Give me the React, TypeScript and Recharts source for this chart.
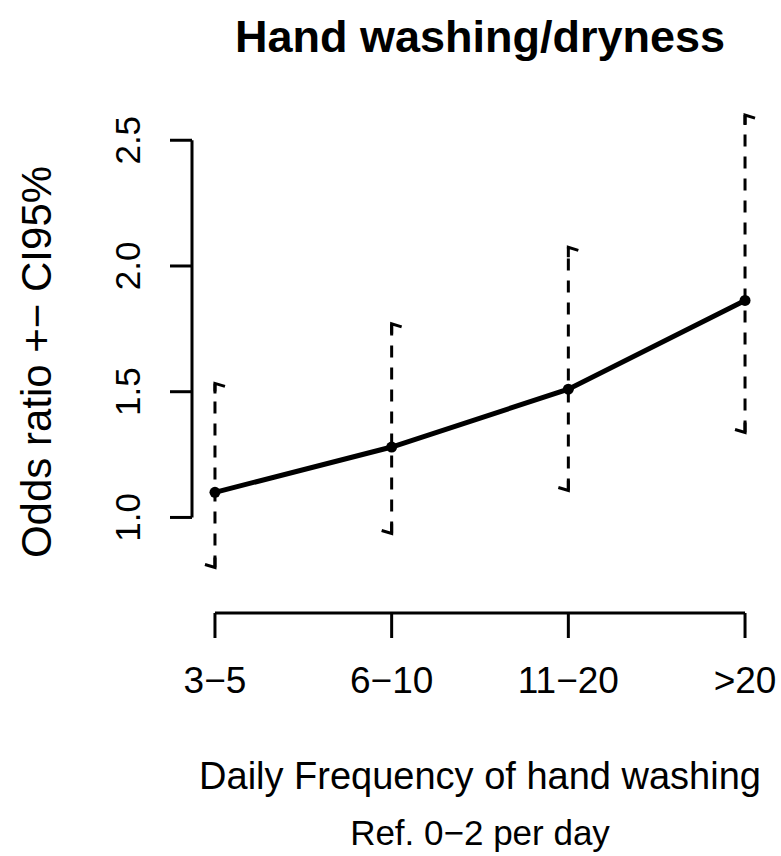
import { LineChart, Line, XAxis, YAxis, ReferenceLine } from 'recharts'

// categories (x positions are their index)
const groups = ['3−5', '6−10', '11−20', '>20']
const oddsRatio = [1.1, 1.28, 1.51, 1.863]
const ciLow = [0.801, 0.936, 1.107, 1.338]
const ciHigh = [1.533, 1.77, 2.074, 2.6]
const yTicks = [1.0, 1.5, 2.0, 2.5]

const X_DOMAIN: [number, number] = [-0.13, 3.13]
const Y_DOMAIN: [number, number] = [0.62, 2.672]

const FONT = '"Liberation Sans", Arial, sans-serif'

const mainData = groups.map((g, i) => ({ x: i, y: oddsRatio[i], name: g }))
const ciData = groups.map((g, i) => [
  { x: i, y: ciLow[i], end: 'low' },
  { x: i, y: ciHigh[i], end: 'high' },
])

// small half-caps at the ends of the CI segments
const CiCap = (props: any) => {
  const { cx, cy, payload } = props
  if (cx == null || cy == null) return null
  const d =
    payload.end === 'high'
      ? `M${cx},${cy + 10} L${cx},${cy} L${cx + 10},${cy + 3}`
      : `M${cx},${cy - 10} L${cx},${cy} L${cx - 10},${cy - 3}`
  return <path key={`${cx}-${cy}`} d={d} stroke="#000" strokeWidth={3} fill="none" />
}

const PointDot = (props: any) => {
  const { cx, cy } = props
  if (cx == null || cy == null) return null
  return <circle key={`${cx}-${cy}`} cx={cx} cy={cy} r={5.5} fill="#000" />
}

const YTick = (props: any) => {
  const { x, y, payload } = props
  const bx = x - 28
  return (
    <text
      x={bx}
      y={y}
      transform={`rotate(-90, ${bx}, ${y})`}
      textAnchor="middle"
      fontSize={35}
      fontFamily={FONT}
      fill="#000"
    >
      {Number(payload.value).toFixed(1)}
    </text>
  )
}

const XTick = (props: any) => {
  const { x, y, payload } = props
  return (
    <text x={x} y={y} dy="0.71em" textAnchor="middle" fontSize={37} fontFamily={FONT} fill="#000">
      {groups[payload.value]}
    </text>
  )
}

export default function App() {
  return (
    <div style={{ position: 'absolute', left: 0, top: 0, width: 781, height: 856, background: '#fff' }}>
      <LineChart
        width={781}
        height={856}
        data={mainData}
        margin={{ top: 97, right: 13, bottom: 183, left: 0 }}
      >
        <XAxis
          type="number"
          dataKey="x"
          domain={X_DOMAIN}
          ticks={[0, 1, 2, 3]}
          allowDataOverflow
          axisLine={false}
          tickLine={{ stroke: '#000', strokeWidth: 3 }}
          tickSize={25}
          tickMargin={29}
          height={60}
          tick={<XTick />}
          interval={0}
        />
        <YAxis
          type="number"
          domain={Y_DOMAIN}
          ticks={yTicks}
          allowDataOverflow
          axisLine={false}
          tickLine={{ stroke: '#000', strokeWidth: 3 }}
          tickSize={22}
          width={192}
          tick={<YTick />}
          interval={0}
        />
        <ReferenceLine
          segment={[
            { x: X_DOMAIN[0], y: yTicks[0] },
            { x: X_DOMAIN[0], y: yTicks[yTicks.length - 1] },
          ]}
          stroke="#000"
          strokeWidth={3}
          ifOverflow="visible"
        />
        <ReferenceLine
          segment={[
            { x: 0, y: Y_DOMAIN[0] },
            { x: groups.length - 1, y: Y_DOMAIN[0] },
          ]}
          stroke="#000"
          strokeWidth={3}
          ifOverflow="visible"
        />
        {ciData.map((seg, i) => (
          <Line
            key={`ci-${i}`}
            data={seg}
            dataKey="y"
            type="linear"
            stroke="#000"
            strokeWidth={3}
            strokeDasharray="12 10"
            dot={<CiCap />}
            activeDot={false}
            isAnimationActive={false}
          />
        ))}
        <Line
          data={mainData}
          dataKey="y"
          type="linear"
          stroke="#000"
          strokeWidth={5}
          dot={<PointDot />}
          activeDot={false}
          isAnimationActive={false}
        />
      </LineChart>
      <svg
        width={781}
        height={856}
        style={{ position: 'absolute', left: 0, top: 0, pointerEvents: 'none' }}
      >
        <text x={480} y={52} textAnchor="middle" fontSize={45} fontWeight="bold" fontFamily={FONT}>
          Hand washing/dryness
        </text>
        <text
          x={51}
          y={362}
          transform="rotate(-90, 51, 362)"
          textAnchor="middle"
          fontSize={42}
          fontFamily={FONT}
        >
          Odds ratio +− CI95%
        </text>
        <text x={480} y={789} textAnchor="middle" fontSize={38} fontFamily={FONT}>
          Daily Frequency of hand washing
        </text>
        <text x={480} y={845} textAnchor="middle" fontSize={35} fontFamily={FONT}>
          Ref. 0−2 per day
        </text>
      </svg>
    </div>
  )
}
